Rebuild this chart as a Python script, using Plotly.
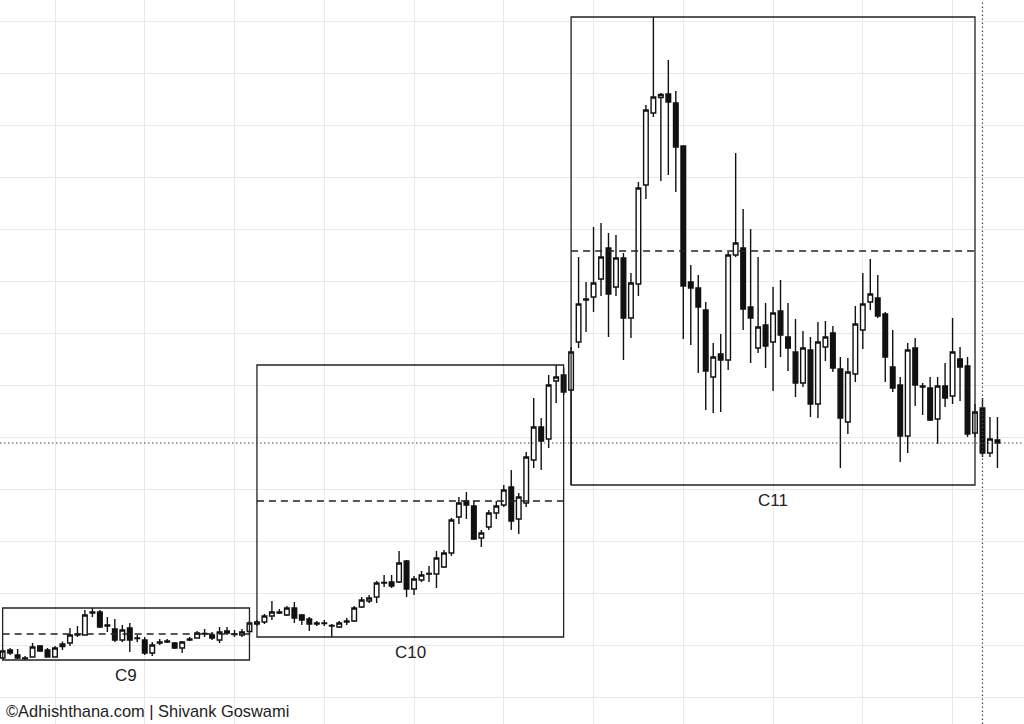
import plotly.graph_objects as go

# OHLC values (arbitrary price units), one entry per session
open_ = [66, 74, 69, 66, 67, 78, 74, 67, 77.5, 81, 89, 89, 111, 112, 99, 95, 84, 96, 86, 84,
         71, 81, 82, 81, 76, 85, 86, 90, 89, 84, 93, 90, 89, 92.5,
         100, 102, 108, 111, 109, 116, 109, 105, 101, 101, 98, 97, 102, 103, 117, 123,
         127, 141, 142, 142, 163, 135, 144, 150, 150, 157, 171, 207, 223, 218, 186, 197,
         211, 219, 237, 205, 221, 264, 297, 285, 343, 349,
         334, 382, 424, 427, 445, 476, 437, 466, 406, 440, 539, 611, 626.5, 630, 621, 578,
         442, 436, 414, 347, 370, 364, 469, 476, 417, 376, 399, 382, 413, 387, 372, 341,
         374, 320, 377, 391, 355, 302, 350, 394, 422, 426, 410, 357, 339, 288, 376, 338,
         336, 305, 338, 328, 365, 358, 291,
         316, 271, 284]
high = [75, 76, 75, 68, 81, 79, 76, 78, 82.5, 96, 98, 114, 116, 114, 107, 105, 99, 101, 89, 87,
        82, 85, 85, 82, 83, 87, 93, 95, 92, 97, 97, 94, 95, 103,
        104, 110, 123, 115, 118, 122, 110, 107, 103, 104, 100, 103, 106, 118, 127, 129,
        143, 149, 149, 173, 164, 148, 153, 158, 173, 174, 206, 227, 232, 223, 194, 214,
        223, 239, 254, 231, 272, 326, 306, 349, 359, 356,
        377, 467, 442, 497, 501, 491, 489, 471, 451, 542, 619, 707, 631, 664, 633, 578,
        459, 449, 422, 381, 390, 472, 571, 515, 495, 467, 421, 437, 444, 421, 405, 393,
        387, 402, 403, 398, 367, 366, 418, 451, 465, 449, 412, 394, 347, 381, 386, 341,
        347, 347, 361, 406, 377, 367, 320,
        326, 307, 307]
low = [64, 69, 65, 64, 67, 72, 66.5, 67, 74, 78, 87, 89, 107, 96, 92, 82, 82, 72, 82, 69,
       68, 79, 81, 75, 71, 83, 86, 87, 84, 81, 89, 87, 87, 89,
       98, 100, 104, 110, 108, 101, 99, 93, 98, 98, 87, 96, 99, 102, 116, 121,
       121, 137, 136, 141, 127, 129, 142, 142, 136, 156, 168, 200, 205, 184, 177, 194,
       205, 217, 194, 190, 217, 256, 254, 276, 321, 329,
       239, 376, 392, 412, 428, 387, 428, 364, 386, 428, 525, 607, 543, 549, 532, 385,
       379, 351, 314, 311, 312, 354, 467, 394, 361, 371, 356, 333, 367, 353, 327, 337,
       307, 306, 363, 352, 256, 290, 342, 375, 414, 406, 342, 332, 262, 271, 318, 309,
       303, 280, 317, 320, 323, 287, 287,
       267, 267, 256]
close = [73, 71, 66, 65.5, 77, 73, 67, 76, 80, 89, 90, 109, 112, 97, 98, 84, 94, 84, 85.5, 71,
         79, 82, 83, 76, 82, 84, 91, 90.5, 86, 92, 91, 89.5, 92, 101,
         102, 108, 112, 112, 116, 106, 104, 100, 100, 100.5, 98.5, 101, 103, 116, 124, 126,
         141, 141.5, 138, 161, 135, 145, 149, 150.5, 166, 171, 204, 221, 219, 185, 191, 211,
         218, 234, 203, 227, 267, 297, 283, 339, 347, 332,
         372, 420, 425, 441, 467, 430, 466, 406, 441, 536, 614, 627, 629.5, 622, 577, 438,
         436, 417, 353, 367, 364, 469, 481, 415, 406, 397, 378, 411, 389, 376, 341, 376,
         320, 382, 387, 356, 306, 352, 400, 420, 430, 408, 367, 336, 288, 374, 339, 337,
         304, 338, 326, 372, 357, 290, 312,
         271, 285, 281]

# Cycle groupings: (label, first session index, last session index)
clusters = [("C9", 0, 33), ("C10", 34, 75), ("C11", 76, 130)]
marker_index = 131
credit = "©Adhishthana.com | Shivank Goswami"

x = list(range(len(open_)))

fig = go.Figure()
fig.add_trace(go.Candlestick(
    x=x, open=open_, high=high, low=low, close=close,
    increasing=dict(line=dict(color="#111111", width=1.4), fillcolor="#ffffff"),
    decreasing=dict(line=dict(color="#111111", width=1.4), fillcolor="#111111"),
    whiskerwidth=0, showlegend=False, hoverinfo="skip",
))

FONT = "Liberation Sans, Arial, sans-serif"
shapes = []
annotations = []
for label, a, b in clusters:
    lo = min(low[a:b + 1])
    hi = max(high[a:b + 1])
    mid = (lo + hi) / 2
    shapes.append(dict(type="rect", xref="x", yref="y", x0=a, x1=b, y0=lo, y1=hi,
                       line=dict(color="#222222", width=1.3), fillcolor="rgba(0,0,0,0)", layer="above"))
    shapes.append(dict(type="line", xref="x", yref="y", x0=a, x1=b, y0=mid, y1=mid,
                       line=dict(color="#222222", width=1.3, dash="7px,5px"), layer="above"))
    annotations.append(dict(x=(a + b) / 2, y=lo, xref="x", yref="y", text=label, showarrow=False,
                            yanchor="top", yshift=-4,
                            font=dict(family=FONT, size=17, color="#222222")))

shapes.append(dict(type="line", xref="paper", yref="y", x0=0, x1=1, y0=close[-1], y1=close[-1],
                   line=dict(color="#444444", width=1.2, dash="1.5px,2.5px"), layer="above"))
shapes.append(dict(type="line", xref="x", yref="paper", x0=marker_index, x1=marker_index, y0=0, y1=1,
                   line=dict(color="#444444", width=1.2, dash="1.5px,2.5px"), layer="above"))

annotations.append(dict(x=0, y=0, xref="paper", yref="paper", text=credit, showarrow=False,
                        xanchor="left", yanchor="bottom", xshift=4, yshift=2,
                        font=dict(family=FONT, size=16.4, color="#222222")))

fig.update_layout(
    width=1024, height=724, autosize=False,
    margin=dict(l=0, r=0, t=0, b=0, pad=0),
    paper_bgcolor="#ffffff", plot_bgcolor="#ffffff",
    showlegend=False, shapes=shapes, annotations=annotations,
    boxgap=0.12,
    xaxis=dict(range=[-0.353, 136.55], showticklabels=False, ticks="", tick0=7, dtick=12,
               showgrid=True, gridcolor="#e9e9e9", gridwidth=1, zeroline=False,
               rangeslider=dict(visible=False), fixedrange=True),
    yaxis=dict(range=[0, 724], showticklabels=False, ticks="", tick0=27, dtick=52,
               showgrid=True, gridcolor="#e9e9e9", gridwidth=1, zeroline=False, fixedrange=True),
)

fig.write_html("out.html", config=dict(displayModeBar=False),
               post_script="document.body.style.margin='0';document.body.style.padding='0';"
                           "document.body.style.overflow='hidden';")
